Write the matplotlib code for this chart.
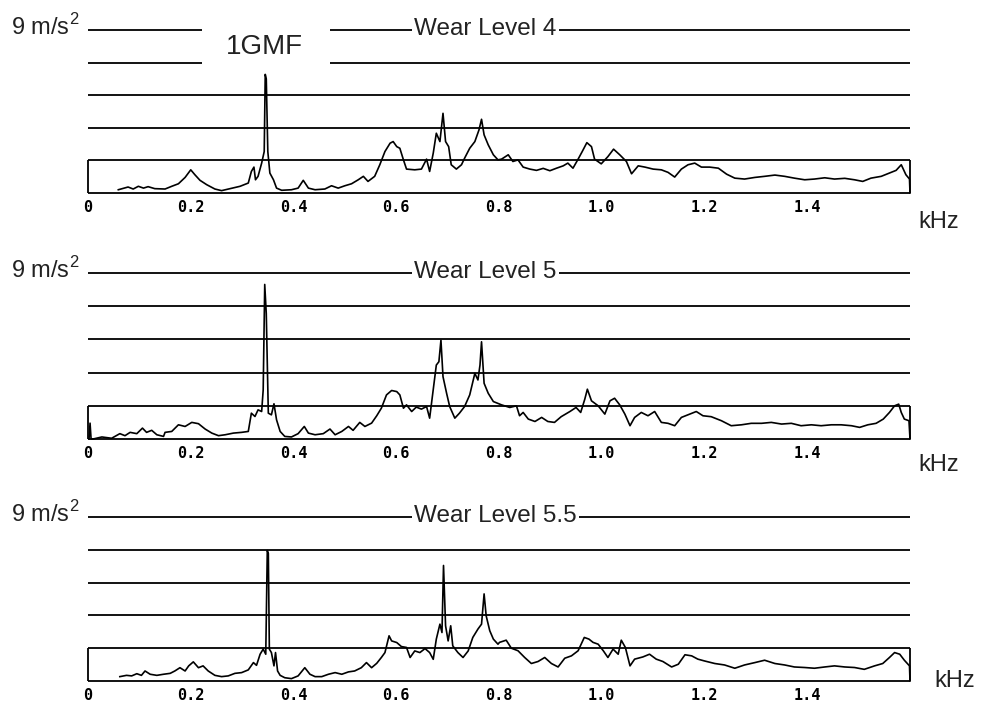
import matplotlib.pyplot as plt
from matplotlib.transforms import blended_transform_factory

# spectra: frequency in kHz, amplitude in m/s^2
freq_l4 = [0.059, 0.078, 0.088, 0.098, 0.108, 0.117, 0.130, 0.150, 0.163, 0.176,
           0.189, 0.200, 0.208, 0.218, 0.231, 0.247, 0.260, 0.280, 0.296, 0.312,
           0.318, 0.323, 0.326, 0.331, 0.338, 0.343, 0.345, 0.347, 0.350, 0.354,
           0.361, 0.367, 0.377, 0.396, 0.409, 0.419, 0.429, 0.442, 0.461, 0.474,
           0.487, 0.500, 0.513, 0.526, 0.536, 0.545, 0.558, 0.568, 0.578, 0.588,
           0.594, 0.601, 0.607, 0.614, 0.620, 0.636, 0.649, 0.659, 0.665, 0.672,
           0.678, 0.685, 0.691, 0.696, 0.702, 0.707, 0.717, 0.727, 0.733, 0.743,
           0.753, 0.761, 0.766, 0.771, 0.779, 0.789, 0.798,
           0.805, 0.818, 0.827, 0.837, 0.847, 0.860, 0.873, 0.886, 0.899, 0.912,
           0.925, 0.934, 0.944, 0.954, 0.962, 0.971, 0.980, 0.986, 0.999, 1.012,
           1.023, 1.035, 1.048, 1.058, 1.071, 1.084, 1.100, 1.116, 1.129, 1.142,
           1.155, 1.168, 1.181, 1.194, 1.210, 1.227, 1.243, 1.259, 1.278, 1.298,
           1.317, 1.337, 1.356, 1.375, 1.395, 1.414, 1.434, 1.453, 1.473, 1.492,
           1.508, 1.524, 1.544, 1.560, 1.573, 1.583, 1.592, 1.599, 1.600]
amp_l4 = [0.18, 0.33, 0.22, 0.37, 0.27, 0.35, 0.24, 0.22, 0.37, 0.51,
          0.86, 1.28, 1.01, 0.70, 0.46, 0.22, 0.13, 0.26, 0.37, 0.55,
          1.19, 1.43, 0.73, 0.92, 1.65, 2.29, 6.55, 6.30, 2.29, 1.10,
          0.73, 0.27, 0.15, 0.18, 0.27, 0.70, 0.27, 0.18, 0.22, 0.40,
          0.27, 0.40, 0.51, 0.73, 0.92, 0.64, 0.92, 1.56, 2.29, 2.75,
          2.84, 2.56, 2.47, 1.83, 1.32, 1.28, 1.32, 1.87, 1.19, 2.20,
          3.30, 2.84, 4.40, 2.84, 2.56, 1.56, 1.32, 1.56, 1.92, 2.47,
          2.84, 3.48, 4.07, 3.21, 2.66, 2.11, 1.83,
          1.87, 2.11, 1.74, 1.83, 1.43, 1.32, 1.25, 1.36, 1.23, 1.37,
          1.50, 1.65, 1.37, 1.87, 2.29, 2.78, 2.56, 1.87, 1.61, 2.01,
          2.42, 2.11, 1.74, 1.06, 1.50, 1.43, 1.32, 1.28, 1.14, 0.88,
          1.32, 1.56, 1.65, 1.43, 1.43, 1.37, 1.04, 0.82, 0.77, 0.86,
          0.92, 0.99, 0.92, 0.82, 0.73, 0.77, 0.84, 0.77, 0.81, 0.73,
          0.64, 0.82, 0.92, 1.10, 1.25, 1.56, 1.01, 0.77, 0.00]

freq_l5 = [0.002, 0.004, 0.006, 0.010, 0.027, 0.046, 0.062, 0.072, 0.082, 0.095,
           0.106, 0.114, 0.124, 0.134, 0.147, 0.150, 0.163, 0.176, 0.189, 0.202,
           0.215, 0.228, 0.241, 0.254, 0.267, 0.283, 0.299, 0.312, 0.318, 0.325,
           0.331, 0.338, 0.341, 0.344, 0.347, 0.351, 0.357, 0.362, 0.367, 0.374,
           0.383, 0.396, 0.409, 0.421, 0.429, 0.442, 0.458, 0.471, 0.481, 0.494,
           0.507, 0.516, 0.529, 0.539, 0.552, 0.562, 0.571, 0.581, 0.591, 0.601,
           0.607, 0.614, 0.620, 0.630, 0.639, 0.649, 0.659, 0.665, 0.672, 0.678,
           0.683, 0.687, 0.691, 0.698, 0.704, 0.714, 0.723, 0.733, 0.743, 0.753,
           0.759, 0.763, 0.766, 0.771, 0.779, 0.789,
           0.805, 0.821, 0.834, 0.840, 0.847, 0.857, 0.870, 0.883, 0.895, 0.908,
           0.921, 0.938, 0.950, 0.959, 0.967, 0.972, 0.980, 0.993, 1.006, 1.016,
           1.025, 1.035, 1.045, 1.055, 1.064, 1.077, 1.090, 1.103, 1.116, 1.129,
           1.142, 1.155, 1.171, 1.184, 1.197, 1.213, 1.233, 1.252, 1.272, 1.291,
           1.311, 1.330, 1.350, 1.369, 1.388, 1.408, 1.427, 1.447, 1.466, 1.486,
           1.502, 1.518, 1.534, 1.548, 1.560, 1.570, 1.578, 1.583, 1.589, 1.598,
           1.600]
amp_l5 = [0.00, 0.86, 0.00, 0.00, 0.11, 0.04, 0.29, 0.18, 0.36, 0.29,
          0.59, 0.36, 0.47, 0.23, 0.14, 0.36, 0.41, 0.77, 0.68, 0.90,
          0.83, 0.54, 0.32, 0.18, 0.23, 0.32, 0.36, 0.41, 1.40, 1.22,
          1.58, 1.49, 2.66, 8.38, 6.80, 1.40, 1.31, 1.91, 1.04, 0.41,
          0.14, 0.11, 0.29, 0.68, 0.32, 0.23, 0.29, 0.54, 0.23, 0.41,
          0.68, 0.47, 0.90, 0.68, 0.86, 1.26, 1.67, 2.39, 2.63, 2.57,
          2.39, 1.67, 1.85, 1.49, 1.73, 1.62, 1.76, 1.13, 2.66, 4.01,
          4.19, 5.36, 3.38, 2.48, 1.76, 1.13, 1.40, 1.76, 2.39, 3.56,
          3.20, 4.01, 5.27, 3.02, 2.48, 2.03,
          1.85, 1.71, 1.80, 1.26, 1.44, 1.08, 0.95, 1.17, 0.95, 0.90,
          1.21, 1.49, 1.71, 1.44, 2.16, 2.70, 2.07, 1.80, 1.35, 2.07,
          2.21, 1.85, 1.35, 0.72, 1.17, 1.44, 1.26, 1.49, 0.90, 0.85,
          0.72, 1.17, 1.35, 1.49, 1.26, 1.21, 0.99, 0.72, 0.77, 0.85,
          0.85, 0.90, 0.81, 0.85, 0.72, 0.77, 0.72, 0.77, 0.77, 0.72,
          0.63, 0.77, 0.85, 1.08, 1.44, 1.80, 1.89, 1.44, 1.08, 0.99,
          0.00]

freq_l55 = [0.062, 0.075, 0.085, 0.095, 0.104, 0.111, 0.121, 0.134, 0.147, 0.160,
            0.169, 0.179, 0.189, 0.196, 0.205, 0.215, 0.224, 0.234, 0.247, 0.260,
            0.273, 0.286, 0.299, 0.312, 0.322, 0.328, 0.335, 0.341, 0.346, 0.349,
            0.351, 0.353, 0.357, 0.362, 0.365, 0.369, 0.374, 0.383, 0.396, 0.409,
            0.422, 0.432, 0.442, 0.455, 0.468, 0.481, 0.494, 0.507, 0.519, 0.532,
            0.542, 0.552, 0.562, 0.571, 0.578, 0.586, 0.591, 0.601, 0.610, 0.620,
            0.627, 0.636, 0.646, 0.656, 0.665, 0.672, 0.678, 0.685, 0.689, 0.692,
            0.696, 0.701, 0.706, 0.710, 0.720, 0.730, 0.740, 0.749, 0.759, 0.766,
            0.771, 0.775, 0.782, 0.789, 0.798,
            0.801, 0.814, 0.824, 0.837, 0.850, 0.863, 0.876, 0.889, 0.902, 0.915,
            0.928, 0.941, 0.954, 0.966, 0.975, 0.983, 0.993, 1.003, 1.012, 1.022,
            1.032, 1.038, 1.046, 1.055, 1.064, 1.080, 1.093, 1.106, 1.119, 1.136,
            1.149, 1.162, 1.175, 1.187, 1.200, 1.220, 1.239, 1.259, 1.278, 1.298,
            1.317, 1.337, 1.356, 1.375, 1.395, 1.414, 1.434, 1.453, 1.473, 1.492,
            1.511, 1.531, 1.547, 1.560, 1.570, 1.580, 1.589, 1.599, 1.600]
amp_l55 = [0.24, 0.31, 0.28, 0.40, 0.31, 0.55, 0.37, 0.31, 0.37, 0.42,
           0.55, 0.73, 0.55, 0.83, 1.05, 0.73, 0.83, 0.55, 0.31, 0.24,
           0.28, 0.42, 0.46, 0.61, 1.01, 0.86, 1.47, 1.75, 1.47, 7.16,
           7.00, 1.75, 1.56, 0.83, 1.56, 0.55, 0.31, 0.18, 0.13, 0.28,
           0.73, 0.37, 0.24, 0.24, 0.37, 0.46, 0.37, 0.50, 0.55, 0.73,
           1.01, 0.73, 0.97, 1.29, 1.56, 2.48, 2.20, 2.11, 1.89, 1.84,
           1.29, 1.65, 1.56, 1.78, 1.56, 1.19, 2.30, 3.12, 2.66, 6.34,
           3.03, 2.20, 3.03, 1.93, 1.56, 1.29, 1.65, 2.39, 2.85, 3.12,
           4.78, 3.58, 2.76, 2.30, 2.02,
           2.12, 2.24, 1.80, 1.66, 1.29, 0.96, 1.07, 1.29, 0.96, 0.77,
           1.25, 1.38, 1.66, 2.39, 2.30, 2.12, 2.02, 1.66, 1.29, 1.75,
           1.47, 2.24, 1.84, 0.83, 1.20, 1.32, 1.47, 1.20, 1.07, 0.77,
           0.92, 1.44, 1.38, 1.20, 1.10, 0.96, 0.88, 0.70, 0.88, 1.01,
           1.14, 0.96, 0.88, 0.77, 0.74, 0.70, 0.77, 0.83, 0.77, 0.74,
           0.64, 0.83, 0.96, 1.29, 1.56, 1.47, 1.14, 0.83, 0.00]

titles = ["Wear Level 4", "Wear Level 5", "Wear Level 5.5"]
grid_levels = [1.8, 3.6, 5.4, 7.2, 9.0]
tick_vals = [0, 0.2, 0.4, 0.6, 0.8, 1.0, 1.2, 1.4]
tick_labels = ["0", "0.2", "0.4", "0.6", "0.8", "1.0", "1.2", "1.4"]
gmf_freq = 0.344

plt.rcParams["font.family"] = ["Liberation Sans", "DejaVu Sans"]
plt.rcParams["mathtext.fontset"] = "custom"
plt.rcParams["mathtext.rm"] = "Liberation Sans"

W, H = 981, 709
fig = plt.figure(figsize=(W / 100, H / 100), dpi=100)

# panel placement in pixels (top line, baseline) and kHz label spot
panels = [(30, 193), (273, 439), (517, 681)]
khz_pos = [(1.0097, -1.6), (1.0097, -1.42), (1.030, 0.0)]
series = [(freq_l4, amp_l4), (freq_l5, amp_l5), (freq_l55, amp_l55)]

for i, (top, bot) in enumerate(panels):
    ax = fig.add_axes([88 / W, 1 - bot / H, 822 / W, (bot - top) / H])
    ax.set_xlim(0, 1.6)
    ax.set_ylim(0, 9)
    for s in ax.spines.values():
        s.set_visible(False)
    ax.set_yticks([])
    ax.set_xticks(tick_vals, tick_labels, fontfamily="DejaVu Sans Mono",
                  fontweight="bold", fontsize=11)
    ax.tick_params(axis="x", length=0, pad=5)

    lw = 1.3
    ax.hlines(0, 0, 1.6, color="black", lw=lw, clip_on=False)
    ax.vlines([0, 1.6], 0, 1.8, color="black", lw=lw, clip_on=False)
    for g in grid_levels:
        if i == 0 and g >= 7.2:
            # gap left for the 1GMF label
            ax.hlines(g, 0, 0.222, color="black", lw=lw, clip_on=False)
            ax.hlines(g, 0.471, 1.6, color="black", lw=lw, clip_on=False)
        else:
            ax.hlines(g, 0, 1.6, color="black", lw=lw, clip_on=False)

    f, a = series[i]
    ax.plot(f, a, color="black", lw=1.2, clip_on=False)

    tr = blended_transform_factory(ax.transAxes, ax.transData)
    ax.text(0.635, 8.75, titles[i], ha="left", va="baseline", fontsize=17.5,
            color="#222222", bbox=dict(facecolor="white", edgecolor="none", pad=1.5))
    ax.text(-0.01, 8.75, r"9 m/s$^2$", transform=tr, ha="right",
            va="baseline", fontsize=17, color="#222222")
    kx, ky = khz_pos[i]
    ax.text(kx, ky, "kHz", transform=tr, ha="left", va="center", fontsize=17,
            color="#222222")
    if i == 0:
        ax.text(gmf_freq, 8.05, "1GMF", ha="center", va="center", fontsize=20,
                color="#222222")

fig.savefig("out.png", dpi=100)
